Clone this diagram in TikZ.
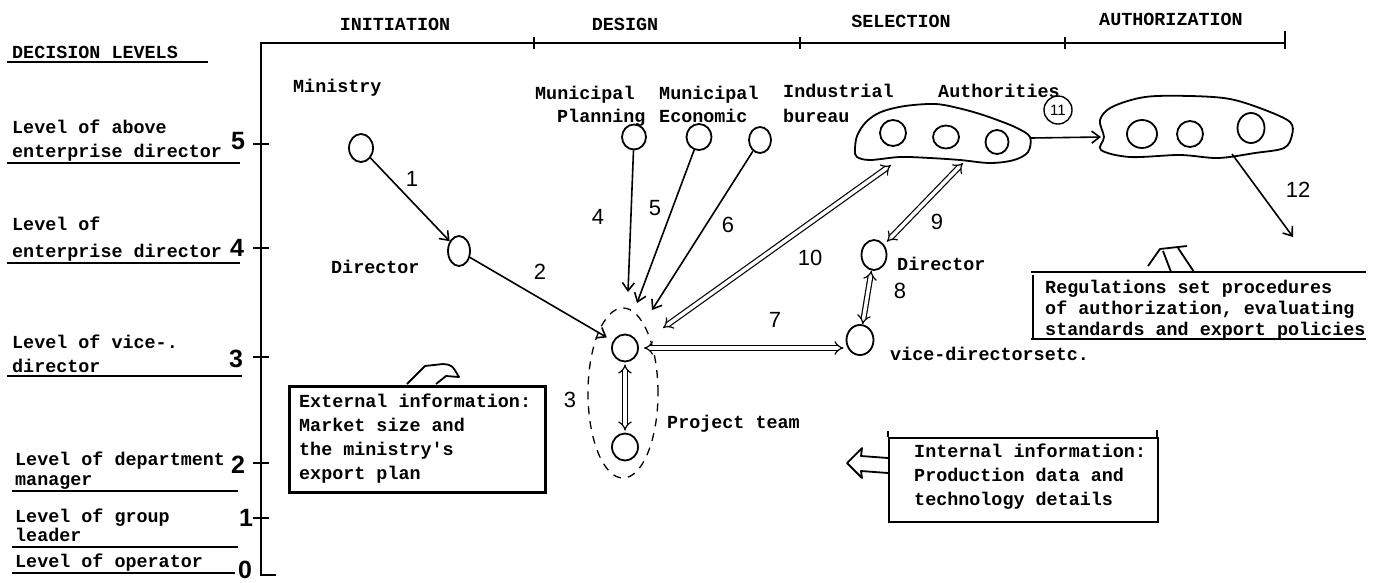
\documentclass[tikz,border=0pt]{standalone}
\usepackage{fontspec}
\newfontfamily\tw{Liberation Mono}
\newfontfamily\hw{Liberation Sans}
\usetikzlibrary{arrows.meta,shapes.geometric}

\begin{document}
\begin{tikzpicture}[x=1pt,y=-1pt,
  txt/.style={font=\tw\bfseries\fontsize{18.4}{24}\selectfont, inner sep=0pt, anchor=base west},
  head/.style={font=\tw\bfseries\fontsize{18.4}{24}\selectfont, inner sep=0pt, anchor=base},
  hnum/.style={font=\hw\fontsize{22}{24}\selectfont, inner sep=0pt},
  lvnum/.style={font=\hw\bfseries\fontsize{25}{26}\selectfont, inner sep=0pt},
  circ/.style={draw, ellipse, line width=1.8pt, inner sep=0pt},
  sarr/.style={line width=1.6pt, -{Straight Barb[length=8pt,width=12pt]}},
  darr/.style={line width=1.2pt, double, double distance=3.5pt, {Implies}-{Implies}},
  rule/.style={line width=1.8pt},
  frame/.style={draw, line width=2.6pt, inner sep=0pt, anchor=north west},
]
\useasboundingbox (0,0) rectangle (1383,582);

% ---- phase axis and decision-level axis
\draw[line width=2.4pt] (1285,43) -- (261,43) -- (261,575) -- (276,575);
\foreach \xx in {534,800,1065} \draw[line width=2pt] (\xx,37) -- (\xx,49);
\draw[line width=2pt] (1285,31) -- (1285,49);
\foreach \yy in {144,248,357,463,518} \draw[line width=2pt] (253,\yy) -- (269,\yy);

\node[head] (hinit) at (395,30) {INITIATION};
\node[head] (hdes)  at (625,30) {DESIGN};
\node[head] (hsel)  at (901,27) {SELECTION};
\node[head] (hauth) at (1171,25) {AUTHORIZATION};

% ---- level captions
\node[txt] (declv) at (12,58) {DECISION LEVELS};
\draw[rule] (7,62) -- (208,62);
\node[txt] (l5a) at (12,133) {Level of above};
\node[txt] (l5b) at (12,157) {enterprise director};
\draw[rule] (7,163) -- (240,163);
\node[txt] (l4a) at (12,230) {Level of};
\node[txt] (l4b) at (12,257) {enterprise director};
\draw[rule] (7,263) -- (240,263);
\node[txt] (l3a) at (12,348) {Level of vice-.};
\node[txt] (l3b) at (12,372) {director};
\draw[rule] (7,376) -- (242,376);
\node[txt] (l2a) at (15,465) {Level of department};
\node[txt] (l2b) at (15,485) {manager};
\draw[rule] (12,491) -- (238,491);
\node[txt] (l1a) at (15,522) {Level of group};
\node[txt] (l1b) at (15,541) {leader};
\draw[rule] (12,547) -- (238,547);
\node[txt] (l0a) at (15,567) {Level of operator};
\draw[rule] (12,573) -- (235,573);

\node[lvnum] (v5) at (238,141) {5};
\node[lvnum] (v4) at (237,248) {4};
\node[lvnum] (v3) at (236,359) {3};
\node[lvnum] (v2) at (238,465) {2};
\node[lvnum] (v1) at (246,518) {1};
\node[lvnum] (v0) at (245,570) {0};

% ---- actors
\node[txt] (tmin) at (293,92) {Ministry};
\node[circ, minimum width=24pt, minimum height=28pt] (min) at (361,148) {};
\node[txt] (tdir1) at (331,273) {Director};
\node[circ, minimum width=22pt, minimum height=30pt] (dir1) at (459,251) {};

\node[txt] (tmp1) at (535,99) {Municipal};
\node[txt] (tmp2) at (557,122) {Planning};
\node[txt] (tme1) at (659,99) {Municipal};
\node[txt] (tme2) at (659,122) {Economic};
\node[txt] (tib1) at (783,97) {Industrial};
\node[txt] (tib2) at (783,122) {bureau};
\node[txt] (tauth) at (938,97) {Authorities};

\node[circ, minimum width=24pt, minimum height=25pt] (plan) at (634,137) {};
\node[circ, minimum width=25pt, minimum height=26pt] (econ) at (699,137) {};
\node[circ, minimum width=22pt, minimum height=26pt] (ind) at (760,140) {};

% project team
\node[circ, minimum width=26pt, minimum height=27pt] (pt1) at (625,348) {};
\node[circ, minimum width=26pt, minimum height=27pt] (pt2) at (625,447) {};
\node[draw, ellipse, dash pattern=on 8pt off 7pt, line width=1.3pt, inner sep=0pt,
      minimum width=70pt, minimum height=170pt] (team) at (623,393) {};
\node[txt] (tteam) at (667,428) {Project team};

% enterprise director and vice-directors
\node[circ, minimum width=25pt, minimum height=30pt] (dir2) at (874,255) {};
\node[txt] (tdir2) at (897,270) {Director};
\node[circ, minimum width=27pt, minimum height=30pt] (vice) at (860,340) {};
\node[txt] (tvice) at (890,360) {vice-directorsetc.};

% authorities (selection)
\draw[line width=1.8pt] plot[smooth cycle, tension=0.55] coordinates {
  (855,150) (857,136) (866,122) (881,112) (905,106) (935,104) (958,108)
  (980,114) (1000,121) (1017,128) (1030,137) (1028,152) (1014,160)
  (990,163) (960,160) (930,158) (900,157) (870,160) (857,157)};
\node[circ, minimum width=26pt, minimum height=26pt] (a1) at (893,133) {};
\node[circ, minimum width=26pt, minimum height=23pt] (a2) at (946,137) {};
\node[circ, minimum width=23pt, minimum height=24pt] (a3) at (997,142) {};

% authorities (authorization)
\draw[line width=1.8pt] plot[smooth cycle, tension=0.55] coordinates {
  (1100,120) (1112,107) (1145,97) (1190,96) (1230,99) (1265,110)
  (1290,122) (1292,135) (1284,148) (1255,153) (1218,158) (1180,155)
  (1130,157) (1101,150) (1104,137)};
\node[circ, minimum width=30pt, minimum height=28pt] (b1) at (1142,134) {};
\node[circ, minimum width=26pt, minimum height=26pt] (b2) at (1190,134) {};
\node[circ, minimum width=27pt, minimum height=30pt] (b3) at (1251,128) {};

% ---- connection points
\coordinate (t4) at (628,292);
\coordinate (t5) at (637,303);
\coordinate (t6) at (652,310);
\coordinate (t10) at (663,328);
\coordinate (cs1) at (891,165);
\coordinate (cs2) at (963,163);
\coordinate (ce) at (1031,138);
\coordinate (cw) at (1101,137);
\coordinate (cb) at (1232,154);
\coordinate (t12) at (1293,237);

% ---- flows
\draw[sarr] (min) -- (dir1);
\draw[sarr, shorten >=7pt] (dir1) -- (pt1);
\draw[sarr] (plan) -- (t4);
\draw[sarr] (econ) -- (t5);
\draw[sarr] (ind) -- (t6);
\draw[darr] (cs1) -- (t10);
\draw[darr, shorten >=4pt] (cs2) -- (dir2);
\draw[darr] (dir2) -- (vice);
\draw[darr, shorten <=5pt, shorten >=2pt] (pt1.east) -- (pt1.east -| vice.west);
\draw[darr, shorten <=2pt, shorten >=2pt] (pt1) -- (pt2);
\draw[sarr] (ce) -- (cw);
\draw[sarr] (cb) -- (t12);

% ---- flow numbers
\node[hnum] (n1) at (412,179) {1};
\node[hnum] (n2) at (540,272) {2};
\node[hnum] (n3) at (570,400) {3};
\node[hnum] (n4) at (598,217) {4};
\node[hnum] (n5) at (655,208) {5};
\node[hnum] (n6) at (728,225) {6};
\node[hnum] (n7) at (775,320) {7};
\node[hnum] (n8) at (900,291) {8};
\node[hnum] (n9) at (937,222) {9};
\node[hnum] (n10) at (810,258) {10};
\node[draw, circle, line width=1.4pt, minimum size=28pt, inner sep=0pt,
      font=\hw\fontsize{15}{16}\selectfont] (n11) at (1058,110) {11};
\node[hnum] (n12) at (1298,190) {12};

% ---- information boxes
\node[frame, minimum width=256pt, minimum height=106pt] (extbox) at (288,385) {};
\foreach \t [count=\i] in {External information:,Market size and,the ministry's,export plan}
  \node[txt] (ext\i) at (299,383+24*\i) {\t};
\draw[line width=1.8pt, line join=round]
  (407,384) -- (425,366) -- (443,364) .. controls (452,365) .. (459,377) -- (446,376) -- (436,384);

\node[draw, line width=2.2pt, inner sep=0pt, anchor=north west,
      minimum width=269pt, minimum height=84pt] (intbox) at (888,437) {};
\draw[line width=1.6pt] (888,437) -- (888,431);
\draw[line width=1.6pt] (1157,437) -- (1157,430);
\foreach \t [count=\i] in {Internal information:,Production data and,technology details}
  \node[txt] (int\i) at (914,433+24*\i) {\t};
\draw[line width=1.8pt, line join=round]
  (888,458) -- (861,456) -- (862,448) -- (847,463) -- (862,478) -- (861,471) -- (888,473);

\draw[line width=2.8pt] (1031,272) -- (1366,272);
\draw[line width=1.4pt] (1033,275) -- (1033,339);
\draw[line width=2.8pt] (1031,339) -- (1366,339);
\foreach \t [count=\i] in {Regulations set procedures,{of authorization, evaluating},standards and export policies}
  \node[txt] (reg\i) at (1045,272+21*\i) {\t};
\draw[line width=1.8pt, line join=round]
  (1148,266) -- (1160,249) -- (1187,246);
\draw[line width=1.8pt] (1163,251) -- (1171,272);
\draw[line width=1.8pt] (1178,248) -- (1194,272);
\end{tikzpicture}
\end{document}
